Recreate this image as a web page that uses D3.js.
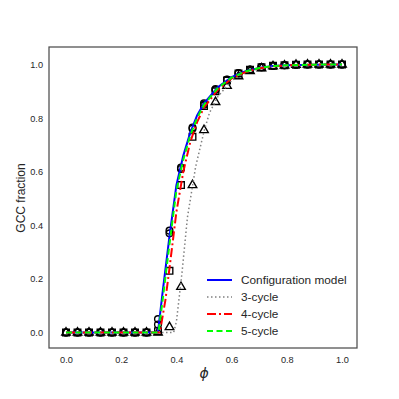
<!DOCTYPE html>
<html>
<head>
<meta charset="utf-8">
<script src="https://cdn.jsdelivr.net/npm/d3@7"></script>
<style>
  body { margin: 0; background: #fff; }
  text { font-family: "Liberation Sans", Arial, sans-serif; }
</style>
</head>
<body>
<svg width="399" height="399"></svg>
<script>
// simulation points, phi = k/24
var phiSim = d3.range(25).map(function(k) { return k / 24; });
var simConfig = [0,0,0,0,0,0,0,0,0.05,0.38,0.615,0.765,0.855,0.908,0.944,0.968,0.981,0.99,0.995,0.997,0.999,1,1,1,1];
var sim5 = [0,0,0,0,0,0,0,0,0.03,0.37,0.61,0.76,0.85,0.905,0.943,0.967,0.98,0.99,0.995,0.997,0.999,1,1,1,1];
var sim4 = [0,0,0,0,0,0,0,0,0.005,0.23,0.55,0.73,0.845,0.9,0.94,0.966,0.98,0.99,0.995,0.997,0.999,1,1,1,1];
var sim3 = [0,0,0,0,0,0,0,0,0,0.02,0.17,0.55,0.755,0.86,0.92,0.956,0.975,0.986,0.993,0.996,0.999,1,1,1,1];

// theory curves
var phiConfig = [0,0.2,0.333,0.35,0.375,0.4,0.425,0.45,0.475,0.5,0.55,0.6,0.65,0.7,0.75,0.8,0.9,1];
var thConfig = [0,0,0,0.15,0.36,0.55,0.66,0.745,0.81,0.855,0.915,0.953,0.975,0.987,0.994,0.997,0.9995,1];
var phi3 = [0,0.2,0.39,0.4,0.42,0.44,0.47,0.5,0.52,0.55,0.6,0.65,0.7,0.8,0.9,1];
var th3 = [0,0,0,0.04,0.22,0.43,0.62,0.75,0.82,0.88,0.94,0.97,0.985,0.996,0.999,1];
var phi4 = [0,0.2,0.34,0.36,0.375,0.4,0.425,0.45,0.475,0.5,0.55,0.6,0.65,0.7,0.75,0.8,0.9,1];
var th4 = [0,0,0,0.12,0.24,0.45,0.6,0.71,0.785,0.84,0.905,0.948,0.972,0.986,0.993,0.997,0.9995,1];
var phi5 = [0,0.2,0.335,0.35,0.375,0.4,0.425,0.45,0.475,0.5,0.55,0.6,0.65,0.7,0.75,0.8,0.9,1];
var th5 = [0,0,0,0.12,0.33,0.53,0.645,0.735,0.8,0.85,0.912,0.951,0.974,0.987,0.994,0.997,0.9995,1];

var legendLabels = ["Configuration model", "3-cycle", "4-cycle", "5-cycle"];
var xTicks = [0, 0.2, 0.4, 0.6, 0.8, 1.0];
var yTicks = [0, 0.2, 0.4, 0.6, 0.8, 1.0];

var svg = d3.select("svg"),
    frameL = 49, frameR = 357, frameT = 47, frameB = 348;

var x = d3.scaleLinear().domain([0, 1]).range([66, 342]);
var y = d3.scaleLinear().domain([0, 1]).range([332.5, 64.5]);

// axes, no tick marks
var xAxis = svg.append("g").attr("transform", "translate(0," + frameB + ")")
    .call(d3.axisBottom(x).tickValues(xTicks).tickFormat(d3.format(".1f")).tickSize(0).tickPadding(8));
var yAxis = svg.append("g").attr("transform", "translate(" + frameL + ",0)")
    .call(d3.axisLeft(y).tickValues(yTicks).tickFormat(d3.format(".1f")).tickSize(0).tickPadding(6));
[xAxis, yAxis].forEach(function(g) {
  g.select(".domain").remove();
  g.selectAll("text").attr("font-size", 9.2).attr("fill", "#262626")
    .style("font-family", "'Liberation Sans', Arial, sans-serif");
});

// markers first
var markerSets = [
  {vals: sim4, sym: d3.symbolSquare, size: 44},
  {vals: sim3, sym: d3.symbolTriangle, size: 32},
  {vals: simConfig, sym: d3.symbolCircle, size: 36},
  {vals: sim5, sym: d3.symbolCircle, size: 36}
];
markerSets.forEach(function(m) {
  svg.append("g").selectAll("path").data(m.vals).join("path")
    .attr("transform", function(d, i) { return "translate(" + x(phiSim[i]) + "," + y(d) + ")"; })
    .attr("d", d3.symbol().type(m.sym).size(m.size))
    .attr("fill", "none").attr("stroke", "#000").attr("stroke-width", 1.35);
});

var line = d3.line().x(function(d) { return x(d[0]); }).y(function(d) { return y(d[1]); });
var curves = [
  {px: phiConfig, py: thConfig, color: "#0000ff", dash: null, w: 2},
  {px: phi3, py: th3, color: "#808080", dash: "1.5,2.5", w: 1.5},
  {px: phi4, py: th4, color: "#ff0000", dash: "9,3,2,3", w: 2},
  {px: phi5, py: th5, color: "#00ff00", dash: "6,3.5", w: 2}
];
curves.forEach(function(c) {
  svg.append("path")
    .datum(d3.zip(c.px, c.py))
    .attr("d", line)
    .attr("fill", "none")
    .attr("stroke", c.color)
    .attr("stroke-width", c.w)
    .attr("stroke-dasharray", c.dash);
});

// frame
svg.append("rect").attr("x", frameL).attr("y", frameT)
  .attr("width", frameR - frameL).attr("height", frameB - frameT)
  .attr("fill", "none").attr("stroke", "#4d4d4d").attr("stroke-width", 1.25);

// labels
svg.append("text").attr("x", 204).attr("y", 378).attr("text-anchor", "middle")
  .attr("font-size", 14).attr("font-style", "italic").attr("fill", "#262626")
  .style("font-family", "'DejaVu Sans', sans-serif").text("ϕ");
svg.append("text").attr("transform", "translate(25,198) rotate(-90)")
  .attr("text-anchor", "middle").attr("font-size", 12).attr("fill", "#262626")
  .text("GCC fraction");

// legend
var leg = svg.append("g");
curves.forEach(function(c, i) {
  var ly = 280 + i * 17;
  leg.append("line").attr("x1", 207).attr("x2", 232).attr("y1", ly).attr("y2", ly)
    .attr("stroke", c.color).attr("stroke-width", c.w).attr("stroke-dasharray", c.dash);
  leg.append("text").attr("x", 241).attr("y", ly + 4.2).attr("font-size", 11.8)
    .attr("fill", "#262626").text(legendLabels[i]);
});
</script>
</body>
</html>
